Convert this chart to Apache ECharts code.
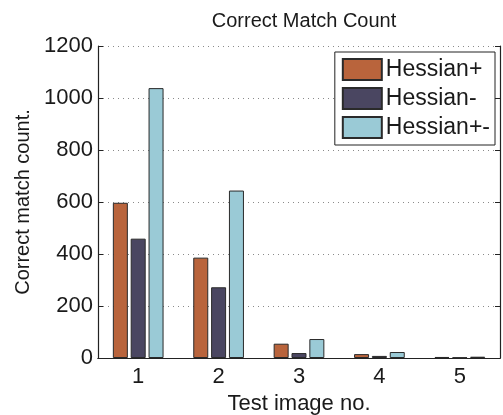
<!DOCTYPE html>
<html>
<head>
<meta charset="utf-8">
<script src="https://cdn.jsdelivr.net/npm/echarts@6/dist/echarts.min.js"></script>
<style>
  html, body { margin: 0; padding: 0; background: #fff; }
  #chart { width: 503px; height: 415px; }
</style>
</head>
<body>
<div id="chart"></div>
<script>
// Test images and correct-match counts per detector variant
const categories = ['1', '2', '3', '4', '5'];
const hessianPlus = [597, 386, 55, 15, 4];
const hessianMinus = [459, 272, 19, 8, 2];
const hessianPlusMinus = [1038, 644, 73, 23, 5];
const yTicks = [0, 200, 400, 600, 800, 1000, 1200];

const FONT = 'Liberation Sans, Arial, Helvetica, sans-serif';
const edge = { borderColor: '#2a2a2a', borderWidth: 1 };

const chart = echarts.init(document.getElementById('chart'), null, { renderer: 'canvas' });

const yMin = yTicks[0];
const yMax = yTicks[yTicks.length - 1];
const yStep = yTicks[1] - yTicks[0];

function bar(name, data, color) {
  return {
    name: name,
    type: 'bar',
    data: data,
    barWidth: 15,
    barGap: '19%',
    itemStyle: Object.assign({ color: color }, edge),
    emphasis: { disabled: true }
  };
}

chart.setOption({
  animation: false,
  backgroundColor: '#fff',
  title: {
    text: 'Correct Match Count',
    left: 299,
    top: 6,
    textAlign: 'center',
    textStyle: { fontFamily: FONT, fontSize: 20, fontWeight: 'normal', color: '#1a1a1a' }
  },
  legend: {
    orient: 'vertical',
    right: 8,
    top: 52,
    padding: [6, 5, 6, 7],
    itemWidth: 39,
    itemHeight: 21,
    itemGap: 6,
    backgroundColor: '#fff',
    borderColor: '#222',
    borderWidth: 1,
    borderRadius: 0,
    icon: 'rect',
    selectedMode: false,
    textStyle: { fontFamily: FONT, fontSize: 23, lineHeight: 21, color: '#1a1a1a', padding: [0, 0, 0, -1] },
    data: ['Hessian+', 'Hessian-', 'Hessian+-']
  },
  grid: { left: 98, right: 3, top: 46, bottom: 57, containLabel: false, outerBoundsMode: 'none' },
  xAxis: [
    {
      type: 'category',
      data: categories,
      position: 'bottom',
      name: 'Test image no.',
      nameLocation: 'middle',
      nameGap: 30,
      nameTextStyle: { fontFamily: FONT, fontSize: 22, color: '#1a1a1a' },
      axisLine: { lineStyle: { color: '#222', width: 1.2 } },
      axisTick: { inside: true, alignWithLabel: true, length: 5, lineStyle: { color: '#222' } },
      axisLabel: { fontFamily: FONT, fontSize: 22, color: '#1a1a1a', margin: 8 },
      splitLine: { show: false }
    },
    {
      type: 'category',
      data: categories,
      position: 'top',
      axisLine: { lineStyle: { color: '#222', width: 1.2 } },
      axisTick: { inside: true, alignWithLabel: true, length: 5, lineStyle: { color: '#222' } },
      axisLabel: { show: false },
      splitLine: { show: false }
    }
  ],
  yAxis: [
    {
      type: 'value',
      min: yMin,
      max: yMax,
      interval: yStep,
      position: 'left',
      name: 'Correct match count.',
      nameLocation: 'middle',
      nameGap: 49,
      nameTextStyle: { fontFamily: FONT, fontSize: 20, color: '#1a1a1a' },
      axisLine: { show: true, lineStyle: { color: '#222', width: 1.2 } },
      axisTick: { show: true, inside: true, length: 5, lineStyle: { color: '#222' } },
      axisLabel: { fontFamily: FONT, fontSize: 22, color: '#1a1a1a', margin: 5, formatter: (v) => String(v) },
      splitLine: { show: true, lineStyle: { color: '#8a8a8a', type: [1, 4], width: 1 } }
    },
    {
      type: 'value',
      min: yMin,
      max: yMax,
      interval: yStep,
      position: 'right',
      axisLine: { show: true, lineStyle: { color: '#222', width: 1.2 } },
      axisTick: { show: true, inside: true, length: 5, lineStyle: { color: '#222' } },
      axisLabel: { show: false },
      splitLine: { show: false }
    }
  ],
  series: [
    bar('Hessian+', hessianPlus, '#b9643c'),
    bar('Hessian-', hessianMinus, '#4a4661'),
    bar('Hessian+-', hessianPlusMinus, '#9acad6')
  ]
});
</script>
</body>
</html>
